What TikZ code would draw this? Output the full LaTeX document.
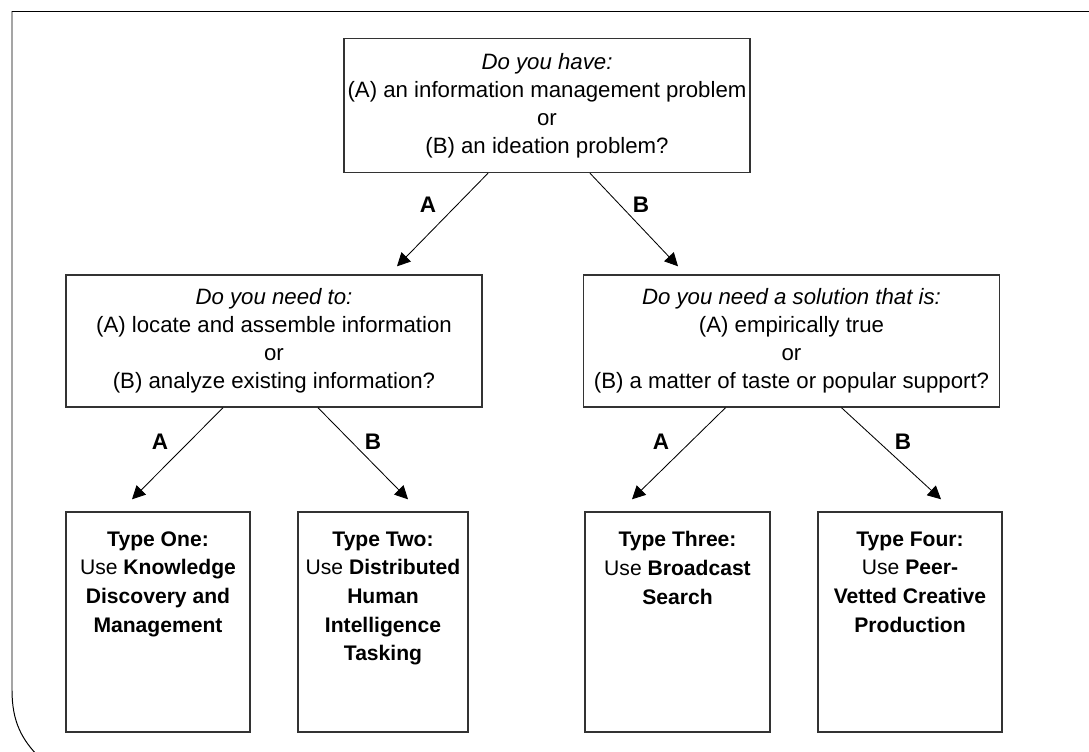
\documentclass[tikz,border=0pt]{standalone}
\usepackage{fontspec}
\setmainfont{Liberation Sans}
\usetikzlibrary{arrows.meta}
\usetikzlibrary{calc}

\begin{document}
\begin{tikzpicture}[x=0.025cm, y=-0.025cm,
  question/.style={draw=black!80, line width=1pt, align=center, inner sep=0pt,
    font=\fontsize{15.8}{19.9}\selectfont},
  typebox/.style={draw=black!80, line width=1pt, minimum height=5.5cm, inner sep=0pt},
  typetext/.style={align=center, inner sep=0pt, anchor=north,
    font=\fontsize{15}{20.4}\selectfont},
  choice/.style={-{Triangle[length=0.33cm,width=0.33cm]}, line width=0.6pt},
  letter/.style={font=\fontsize{16}{16}\selectfont\bfseries}]
\useasboundingbox (0,0) rectangle (1089,751);
% frame
\draw[line width=0.7pt] (12,11) -- (1089,11);
\draw[line width=0.7pt] (12,11) -- (12,690) .. controls (12,722) and (22,740) .. (40,758);
% questions
\node[question, minimum width=10.15cm, minimum height=3.35cm] (qtop) at (547,105.5)
  {\textit{Do you have:}\\(A) an information management problem\\or\\(B) an ideation problem?};
\node[question, minimum width=10.4cm, minimum height=3.3cm] (qleft) at (274,341)
  {\textit{Do you need to:}\\(A) locate and assemble information\\or\\(B) analyze existing information?};
\node[question, minimum width=10.4cm, minimum height=3.3cm] (qright) at (791.5,341)
  {\textit{Do you need a solution that is:}\\(A) empirically true\\or\\(B) a matter of taste or popular support?};
% types
\node[typebox, minimum width=4.6cm] (tone) at (158,622) {};
\node[typebox, minimum width=4.25cm] (ttwo) at (383,622) {};
\node[typebox, minimum width=4.625cm] (tthree) at (677.5,622) {};
\node[typebox, minimum width=4.6cm] (tfour) at (910,622) {};
\node[typetext] (xone) at ($(tone.north)+(0,20)$)
  {\textbf{Type One:}\\Use \textbf{Knowledge}\\\textbf{Discovery and}\\\textbf{Management}};
\node[typetext] (xtwo) at ($(ttwo.north)+(0,20)$)
  {\textbf{Type Two:}\\Use \textbf{Distributed}\\\textbf{Human}\\\textbf{Intelligence}\\\textbf{Tasking}};
\node[typetext] (xthree) at ($(tthree.north)+(0,20)$)
  {\textbf{Type Three:}\\Use \textbf{Broadcast}\\\textbf{Search}};
\node[typetext] (xfour) at ($(tfour.north)+(0,20)$)
  {\textbf{Type Four:}\\Use \textbf{Peer-}\\\textbf{Vetted Creative}\\\textbf{Production}};
% arrows
\draw[choice] ($(qtop.south)+(-59,0)$) -- ($(qleft.north)+(123,-8)$);
\draw[choice] ($(qtop.south)+(43,0)$) -- ($(qright.north)+(-113.5,-8)$);
\draw[choice] ($(qleft.south)+(-51,0)$) -- ($(tone.north)+(-26,-12)$);
\draw[choice] ($(qleft.south)+(44,0)$) -- ($(ttwo.north)+(25,-12)$);
\draw[choice] ($(qright.south)+(-66,0)$) -- ($(tthree.north)+(-45.5,-12)$);
\draw[choice] ($(qright.south)+(50,0)$) -- ($(tfour.north)+(31,-12)$);
% letters
\node[letter] (la) at (428,205) {A};
\node[letter] (lb) at (641,205) {B};
\node[letter] (laa) at (160,442) {A};
\node[letter] (lab) at (373,442) {B};
\node[letter] (lba) at (661,442) {A};
\node[letter] (lbb) at (903,442) {B};
\end{tikzpicture}
\end{document}
